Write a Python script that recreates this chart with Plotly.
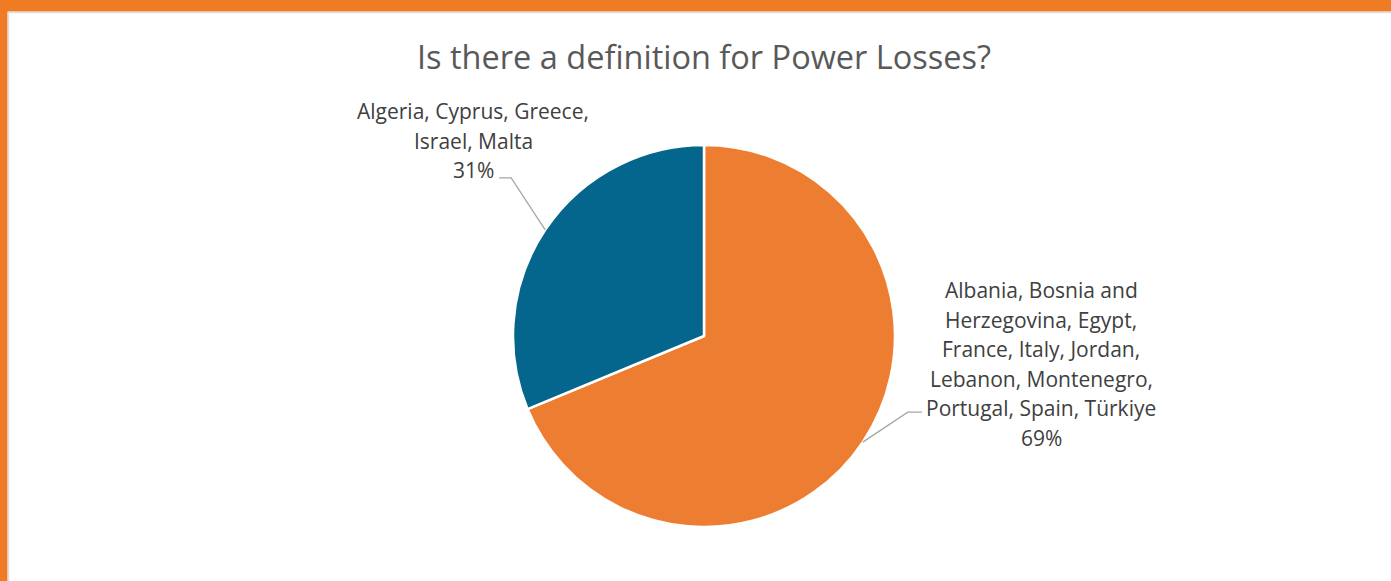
import math
import plotly.graph_objects as go

W, H = 1391, 581

# ---- data ----
categories = [["Albania, Bosnia and", "Herzegovina, Egypt,", "France, Italy, Jordan,",
               "Lebanon, Montenegro,", "Portugal, Spain, Türkiye"],
              ["Algeria, Cyprus, Greece,", "Israel, Malta"]]
answers = ["Yes", "No"]
counts = [11, 5]
colors = ["#ED7D31", "#05668D"]
title = "Is there a definition for Power Losses?"

# ---- layout geometry (pixels) ----
CX, CY, R = 704, 336, 191
LINE_H = 29.6

def px(x):
    return x / W

def py(y):
    return 1 - y / H

fig = go.Figure(go.Pie(
    labels=answers, values=counts, sort=False, direction="clockwise", rotation=0,
    marker=dict(colors=colors, line=dict(color="white", width=2.5)),
    textinfo="none", hoverinfo="label+percent", showlegend=False,
    domain=dict(x=[px(CX - R), px(CX + R)], y=[py(CY + R), py(CY - R)]),
))

total = sum(counts)
shapes = []
annotations = []
label_cfg = [
    dict(elbow=(45, -30), horiz=14),
    dict(elbow=(-34, -52), horiz=-12),
]
label_pos = [(1041, 290), (473, 111)]  # center x, first line center y
FONT = dict(family="Open Sans", size=21, color="#404040")
cum = 0
for i, (cat, v) in enumerate(zip(categories, counts)):
    mid = (cum + v / 2) / total * 2 * math.pi
    cum += v
    ex = CX + R * math.sin(mid)
    ey = CY - R * math.cos(mid)
    cfg = label_cfg[i]
    bx, by = ex + cfg["elbow"][0], ey + cfg["elbow"][1]
    hx = bx + cfg["horiz"]
    shapes.append(dict(type="path", xref="paper", yref="paper",
                       path=f"M {px(ex)},{py(ey)} L {px(bx)},{py(by)} L {px(hx)},{py(by)}",
                       line=dict(color="#A6A6A6", width=1.3)))
    pct = round(v / total * 100)
    lines = cat + [f"{pct}%"]
    lx, ly = label_pos[i]
    for k, ln in enumerate(lines):
        annotations.append(dict(x=px(lx), y=py(ly + k * LINE_H), xref="paper", yref="paper",
                                text=ln, showarrow=False, xanchor="center", yanchor="middle",
                                align="center", font=FONT))

# orange frame
shapes += [
    dict(type="rect", xref="paper", yref="paper", x0=0, x1=1, y0=py(11.5), y1=1,
         fillcolor="#F07B25", line=dict(width=0), layer="above"),
    dict(type="rect", xref="paper", yref="paper", x0=0, x1=px(7.5), y0=0, y1=1,
         fillcolor="#F07B25", line=dict(width=0), layer="above"),
    dict(type="line", xref="paper", yref="paper", x0=px(8.5), x1=1, y0=py(12.5), y1=py(12.5),
         line=dict(color="#DDDDDD", width=1.5)),
    dict(type="line", xref="paper", yref="paper", x0=px(8.5), x1=px(8.5), y0=0, y1=py(12.5),
         line=dict(color="#DDDDDD", width=1.5)),
]

annotations.append(dict(x=px(704), y=py(57), xref="paper", yref="paper", text=title,
                        showarrow=False, xanchor="center", yanchor="middle",
                        font=dict(family="Open Sans", size=32.5, color="#595959")))

fig.update_layout(width=W, height=H, margin=dict(l=0, r=0, t=0, b=0),
                  paper_bgcolor="white", plot_bgcolor="white",
                  shapes=shapes, annotations=annotations)

fig.write_html("out.html", config={"displayModeBar": False},
               post_script="document.body.style.margin='0';document.body.style.overflow='hidden';")
